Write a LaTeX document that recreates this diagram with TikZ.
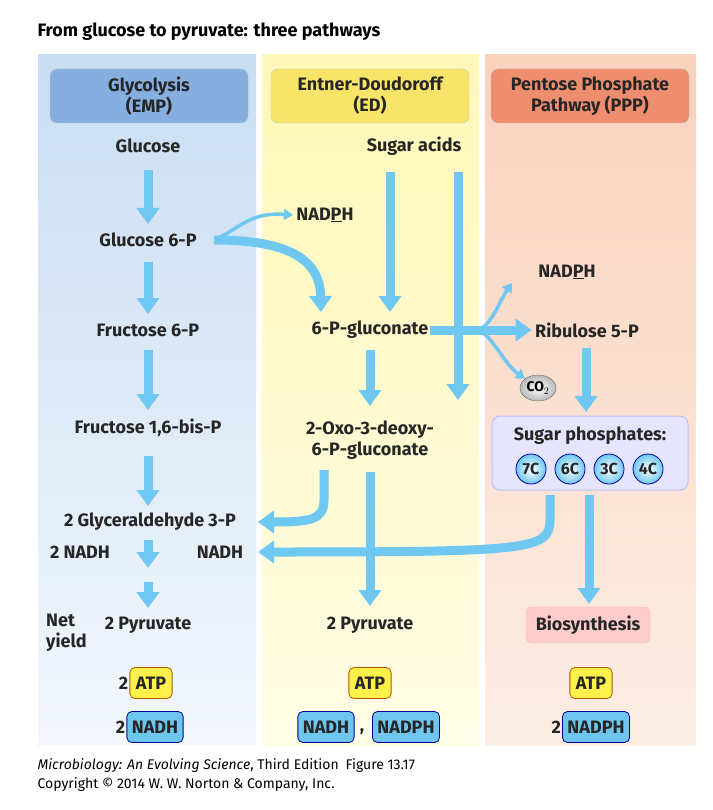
\documentclass[tikz,border=0pt]{standalone}
\usepackage{fontspec}
\setmainfont{Fira Sans}
\usetikzlibrary{arrows.meta,shapes.geometric}
\definecolor{arr}{HTML}{6EC8F2}
\definecolor{hblue}{HTML}{86AEDF}
\definecolor{hyel}{HTML}{F8E468}
\definecolor{horg}{HTML}{EE8E6E}
\definecolor{atp}{HTML}{FFF04A}
\definecolor{nadh}{HTML}{6EC6F0}
\definecolor{pb1}{HTML}{C9DDF3}\definecolor{pb2}{HTML}{F3F7FC}
\definecolor{py1}{HTML}{FFF7B8}\definecolor{py2}{HTML}{FFFDE6}
\definecolor{po1}{HTML}{F8D2BC}\definecolor{po2}{HTML}{FCEEE4}
\tikzset{
 lbl/.style={font=\fontsize{18}{21}\selectfont\bfseries, text=black!85, align=center},
 big/.style={draw=arr, line width=9pt, -{Triangle[length=16pt,width=22pt]}},
 thin/.style={draw=arr, line width=3.5pt, -{Triangle[length=9pt,width=11pt]}},
 head/.style={rounded corners=7pt, minimum width=198pt, minimum height=54pt, lbl, draw=black!25},
 atpbox/.style={lbl, fill=atp, draw=orange!70!black, line width=0.8pt, rounded corners=5pt, inner xsep=6pt, minimum height=31pt},
 nadhbox/.style={lbl, fill=nadh, draw=blue!60!black, line width=0.8pt, rounded corners=5pt, inner xsep=5pt, minimum height=31pt},
 circ/.style={circle, inner color=white, outer color=arr, draw=blue!60!black, line width=0.8pt, minimum size=30pt, inner sep=0pt, font=\fontsize{16}{18}\selectfont\bfseries, text=black!85}
}
\begin{document}
\begin{tikzpicture}[x=1pt,y=-1pt]
\useasboundingbox (0,0) rectangle (712,810);
\fill[white] (0,0) rectangle (712,810);
% panels
\shade[top color=pb1, bottom color=pb2] (38,55) rectangle (256,745);
\shade[top color=py1, bottom color=py2] (262,55) rectangle (479,745);
\shade[top color=po1, bottom color=po2] (485,55) rectangle (696,745);
\node[anchor=west, font=\fontsize{18}{21}\selectfont\bfseries] (title) at (34,32) {From glucose to pyruvate: three pathways};
\node[head, fill=hblue] (h1) at (149,96) {Glycolysis\\(EMP)};
\node[head, fill=hyel] (h2) at (370,96) {Entner-Doudoroff\\(ED)};
\node[head, fill=horg] (h3) at (590,96) {Pentose Phosphate\\Pathway (PPP)};
% EMP
\node[lbl] (glc) at (148,146) {Glucose};
\node[lbl] (g6p) at (148,240) {Glucose 6-P};
\node[lbl] (f6p) at (148,330) {Fructose 6-P};
\node[lbl] (f16) at (148,428) {Fructose 1,6-bis-P};
\node[lbl] (g3p) at (150,522) {2 Glyceraldehyde 3-P};
\node[lbl] (nadh1) at (80,552) {2 NADH};
\node[lbl] (nadh2) at (220,552) {NADH};
\node[lbl, align=left, anchor=north west, inner sep=0pt] (net) at (46,614) {Net\\yield};
\node[lbl] (pyr1) at (148,625) {2 Pyruvate};
% ED
\node[lbl] (sug) at (414,146) {Sugar acids};
\node[lbl] (nadph1) at (325,215) {NAD\underline{P}H};
\node[lbl] (pg) at (370,330) {6-P-gluconate};
\node[lbl] (kdpg) at (370,440) {2-Oxo-3-deoxy-\\6-P-gluconate};
\node[lbl] (pyr2) at (370,625) {2 Pyruvate};
% PPP
\node[lbl] (nadph2) at (567,272) {NAD\underline{P}H};
\node[lbl] (ru5p) at (587,330) {Ribulose 5-P};
\node[ellipse, inner color=white, outer color=gray!55, draw=black!60, minimum width=36pt, minimum height=26pt, inner sep=0pt, font=\fontsize{14}{16}\selectfont\bfseries] (co2) at (538,388) {CO$_2$};
\node[rounded corners=8pt, fill=blue!10, draw=blue!25, line width=1pt, minimum width=196pt, minimum height=74pt] (sp) at (590,453) {};
\node[lbl] (splab) at (590,436) {Sugar phosphates:};
\node[circ] (c7) at (531,469) {7C};
\node[circ] (c6) at (570,469) {6C};
\node[circ] (c3) at (609,469) {3C};
\node[circ] (c4) at (648,469) {4C};
\node[lbl, fill=red!20, draw=red!30, rounded corners=6pt, minimum width=124pt, minimum height=36pt] (bio) at (588,625) {Biosynthesis};
% yields
\node[atpbox] (a1) at (151,683) {ATP};
\node[lbl, anchor=east, inner sep=1pt] (a1n) at (a1.west) {2};
\node[atpbox] (a2) at (370,683) {ATP};
\node[atpbox] (a3) at (591,683) {ATP};
\node[nadhbox] (n1) at (155,727) {NADH};
\node[lbl, anchor=east, inner sep=1pt] (n1n) at (n1.west) {2};
\node[nadhbox] (n2) at (326,727) {NADH};
\node[lbl, inner sep=0pt] (comma) at (362,732) {,};
\node[nadhbox] (n3) at (406,727) {NADPH};
\node[nadhbox] (n4) at (596,727) {NADPH};
\node[lbl, anchor=east, inner sep=1pt] (n4n) at (n4.west) {2};
\node[anchor=west, font=\fontsize{14}{16}\selectfont] (f1) at (34,766) {\textit{Microbiology: An Evolving Science}, Third Edition\enspace Figure 13.17};
\node[anchor=west, font=\fontsize{14}{16}\selectfont] (f2) at (34,785) {Copyright © 2014 W. W. Norton \& Company, Inc.};
% arrows
\coordinate (p1) at (148,540); \coordinate (p2) at (148,568);
\coordinate (p3) at (148,582);
\draw[big] (148,170) -- (148,224);
\draw[big] (148,262) -- (148,314);
\draw[big] (148,350) -- (148,410);
\draw[big] (148,456) -- (148,506);
\draw[big] (p1) -- (p2);
\draw[big] (p3) -- (148,608);
\draw[thin] (218,238) .. controls (240,228) and (250,212) .. (nadph1.west);
\draw[big] (214,240) .. controls (290,240) and (320,260) .. (321,312);
\draw[big] (390,172) -- (390,312);
\draw[big] (458,172) -- (458,400);
\draw[big] (370,350) -- (370,406);
\draw[big] (324,470) -- (324,500) .. controls (324,520) and (310,522) .. (258,522);
\draw[big] (370,472) -- (370,606);
\draw[big] (430,330) -- (ru5p.west);
\draw[thin] (478,330) .. controls (492,325) and (500,300) .. (512,283);
\draw[thin] (478,330) .. controls (492,335) and (505,365) .. (co2.north west);
\draw[big] (586,348) -- (586,412);
\draw[big] (550,495) -- (550,520) .. controls (550,550) and (530,552) .. (258,552);
\draw[big] (589,495) -- (589,604);
\end{tikzpicture}
\end{document}
